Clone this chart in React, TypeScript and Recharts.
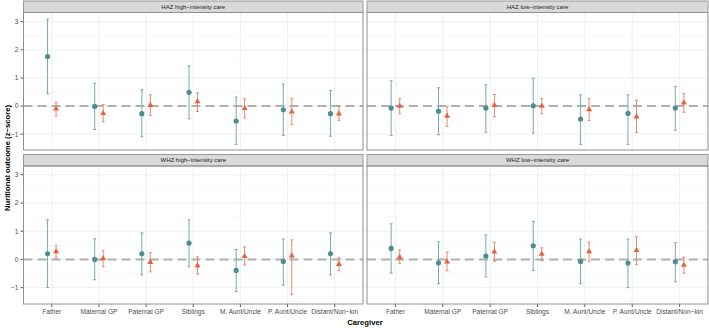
import React from 'react';
import {
  ScatterChart,
  Scatter,
  XAxis,
  YAxis,
  CartesianGrid,
  ReferenceLine,
  ErrorBar,
} from 'recharts';

// Caregiver categories on the x axis
const caregivers = [
  'Father',
  'Maternal GP',
  'Paternal GP',
  'Siblings',
  'M. Aunt/Uncle',
  'P. Aunt/Uncle',
  'Distant/Non\u2212kin',
];

const yTicks = [-1, 0, 1, 2, 3];
const yMinor = [-1.5, -0.5, 0.5, 1.5, 2.5];

// HAZ, high-intensity care
const hazHighCircle = [1.76, -0.01, -0.27, 0.49, -0.53, -0.13, -0.27];
const hazHighCircleLo = [0.44, -0.83, -1.09, -0.45, -1.36, -1.04, -1.07];
const hazHighCircleHi = [3.09, 0.81, 0.58, 1.43, 0.32, 0.78, 0.55];
const hazHighTri = [-0.09, -0.25, 0.04, 0.17, -0.07, -0.19, -0.26];
const hazHighTriLo = [-0.35, -0.56, -0.34, -0.19, -0.42, -0.65, -0.51];
const hazHighTriHi = [0.14, 0.05, 0.4, 0.47, 0.26, 0.27, -0.01];

// HAZ, low-intensity care
const hazLowCircle = [-0.07, -0.18, -0.07, 0.01, -0.46, -0.26, -0.07];
const hazLowCircleLo = [-1.05, -1.02, -0.93, -0.96, -1.36, -1.36, -0.86];
const hazLowCircleHi = [0.9, 0.65, 0.76, 0.99, 0.4, 0.4, 0.69];
const hazLowTri = [0.01, -0.34, 0.04, 0.01, -0.11, -0.37, 0.13];
const hazLowTriLo = [-0.27, -0.72, -0.37, -0.27, -0.51, -0.94, -0.22];
const hazLowTriHi = [0.26, -0.02, 0.41, 0.26, 0.26, 0.2, 0.44];

// WHZ, high-intensity care
const whzHighCircle = [0.2, 0.0, 0.2, 0.58, -0.39, -0.07, 0.2];
const whzHighCircleLo = [-1.0, -0.72, -0.55, -0.26, -1.14, -0.91, -0.55];
const whzHighCircleHi = [1.4, 0.73, 0.94, 1.4, 0.35, 0.72, 0.94];
const whzHighTri = [0.29, 0.04, -0.09, -0.21, 0.12, 0.14, -0.16];
const whzHighTriLo = [0.06, -0.25, -0.44, -0.52, -0.2, -1.25, -0.4];
const whzHighTriHi = [0.48, 0.31, 0.24, 0.09, 0.44, 0.69, 0.06];

// WHZ, low-intensity care
const whzLowCircle = [0.39, -0.12, 0.12, 0.48, -0.07, -0.13, -0.08];
const whzLowCircleLo = [-0.48, -0.86, -0.62, -0.39, -0.86, -1.0, -0.79];
const whzLowCircleHi = [1.26, 0.62, 0.87, 1.34, 0.72, 0.72, 0.59];
const whzLowTri = [0.09, -0.07, 0.28, 0.2, 0.29, 0.33, -0.19];
const whzLowTriLo = [-0.15, -0.4, -0.07, -0.04, -0.07, -0.19, -0.49];
const whzLowTriHi = [0.33, 0.26, 0.61, 0.41, 0.61, 0.8, 0.08];

const TEAL = '#4f8d8e';
const TEAL_BAR = '#78abac';
const ORANGE = '#e5623f';
const ORANGE_BAR = '#e98a6f';
const FONT = '"Liberation Sans", Arial, Helvetica, sans-serif';
const DODGE = 0.09;

const Y_DOMAIN: [number, number] = [-1.58, 3.31];
const X_DOMAIN: [number, number] = [-0.6, 6.6];

type Row = { x: number; y: number; err: [number, number] };

function buildRows(vals: number[], lo: number[], hi: number[], shift: number): Row[] {
  return vals.map((v, i) => ({
    x: i + shift,
    y: v,
    err: [v - lo[i], hi[i] - v],
  }));
}

const CircleMark = (props: any) => {
  const { cx, cy } = props;
  if (cx == null || cy == null) return null;
  return <circle cx={cx} cy={cy} r={2.6} fill={TEAL} />;
};

const TriangleMark = (props: any) => {
  const { cx, cy } = props;
  if (cx == null || cy == null) return null;
  const h = 3.1;
  const w = 3.0;
  return (
    <path
      d={`M${cx},${cy - h} L${cx + w},${cy + h * 0.65} L${cx - w},${cy + h * 0.65} Z`}
      fill={ORANGE}
    />
  );
};

// plot-area geometry of the 2x2 facet grid
const COL_X = [23.5, 367];
const COL_W = [339.5, 341];
const ROW_Y = [12.5, 166];
const PLOT_H = [137.5, 138];
const STRIP_H = 11.5;

type PanelProps = {
  title: string;
  col: number;
  row: number;
  circle: Row[];
  tri: Row[];
};

function Panel({ col, row, circle, tri }: PanelProps) {
  const showY = col === 0;
  const showX = row === 1;
  const yAxisW = showY ? COL_X[0] : 0;
  const xAxisH = showX ? 18 : 0;
  const width = COL_W[col] + yAxisW;
  const height = PLOT_H[row] + xAxisH;
  const left = col === 0 ? 0 : COL_X[1];
  return (
    <div style={{ position: 'absolute', left, top: ROW_Y[row], width, height }}>
      <ScatterChart
        width={width}
        height={height}
        margin={{ top: 0, right: 0, bottom: 0, left: 0 }}
      >
        <CartesianGrid
          stroke="#f4f4f4"
          strokeWidth={0.6}
          vertical={false}
          horizontalValues={yMinor}
        />
        <CartesianGrid
          stroke="#ededed"
          strokeWidth={0.9}
          horizontalValues={yTicks}
          verticalValues={caregivers.map((_, i) => i)}
        />
        <XAxis
          type="number"
          dataKey="x"
          domain={X_DOMAIN}
          ticks={caregivers.map((_, i) => i)}
          tickFormatter={(v: number) => caregivers[Math.round(v)]}
          interval={0}
          allowDataOverflow
          hide={!showX}
          height={xAxisH}
          axisLine={false}
          tickSize={3}
          tickMargin={2}
          tickLine={{ stroke: '#333333', strokeWidth: 0.8 }}
          tick={{ fontSize: 6.6, fill: '#4d4d4d', fontFamily: FONT }}
        />
        <YAxis
          type="number"
          dataKey="y"
          domain={Y_DOMAIN}
          ticks={yTicks}
          allowDataOverflow
          hide={!showY}
          width={yAxisW}
          axisLine={false}
          tickSize={3}
          tickMargin={2}
          tickFormatter={(v: number) => (v < 0 ? `\u2212${Math.abs(v)}` : `${v}`)}
          tickLine={{ stroke: '#333333', strokeWidth: 0.8 }}
          tick={{ fontSize: 6.6, fill: '#4d4d4d', fontFamily: FONT }}
        />
        <ReferenceLine
          y={0}
          stroke="#b0b0b0"
          strokeWidth={2}
          strokeDasharray="9 5"
        />
        <Scatter data={circle} shape={<CircleMark />} isAnimationActive={false}>
          <ErrorBar
            dataKey="err"
            direction="y"
            width={1.5}
            stroke={TEAL_BAR}
            strokeWidth={1}
          />
        </Scatter>
        <Scatter data={tri} shape={<TriangleMark />} isAnimationActive={false}>
          <ErrorBar
            dataKey="err"
            direction="y"
            width={1.5}
            stroke={ORANGE_BAR}
            strokeWidth={1}
          />
        </Scatter>
      </ScatterChart>
    </div>
  );
}

const panels = [
  {
    title: 'HAZ high\u2212intensity care',
    col: 0,
    row: 0,
    circle: buildRows(hazHighCircle, hazHighCircleLo, hazHighCircleHi, -DODGE),
    tri: buildRows(hazHighTri, hazHighTriLo, hazHighTriHi, DODGE),
  },
  {
    title: 'HAZ low\u2212intensity care',
    col: 1,
    row: 0,
    circle: buildRows(hazLowCircle, hazLowCircleLo, hazLowCircleHi, -DODGE),
    tri: buildRows(hazLowTri, hazLowTriLo, hazLowTriHi, DODGE),
  },
  {
    title: 'WHZ high\u2212intensity care',
    col: 0,
    row: 1,
    circle: buildRows(whzHighCircle, whzHighCircleLo, whzHighCircleHi, -DODGE),
    tri: buildRows(whzHighTri, whzHighTriLo, whzHighTriHi, DODGE),
  },
  {
    title: 'WHZ low\u2212intensity care',
    col: 1,
    row: 1,
    circle: buildRows(whzLowCircle, whzLowCircleLo, whzLowCircleHi, -DODGE),
    tri: buildRows(whzLowTri, whzLowTriLo, whzLowTriHi, DODGE),
  },
];

export default function App() {
  return (
    <div
      style={{
        position: 'absolute',
        left: 0,
        top: 0,
        width: 709,
        height: 328,
        background: '#ffffff',
        overflow: 'hidden',
        fontFamily: FONT,
      }}
    >
      {panels.map((p) => (
        <Panel key={p.title} {...p} />
      ))}
      {/* strips, panel frames and axis titles */}
      <svg
        width={709}
        height={328}
        style={{ position: 'absolute', left: 0, top: 0, pointerEvents: 'none' }}
      >
        {panels.map((p) => {
          const x = COL_X[p.col];
          const w = COL_W[p.col];
          const y = ROW_Y[p.row];
          const h = PLOT_H[p.row];
          return (
            <g key={p.title}>
              <rect
                x={x}
                y={y - STRIP_H}
                width={w}
                height={STRIP_H}
                fill="#d9d9d9"
                stroke="#9a9a9a"
                strokeWidth={1}
              />
              <text
                x={x + w / 2}
                y={y - STRIP_H / 2}
                dy="0.35em"
                textAnchor="middle"
                fontSize={6}
                fill="#1a1a1a"
                fontFamily={FONT}
              >
                {p.title}
              </text>
              <rect
                x={x}
                y={y}
                width={w}
                height={h}
                fill="none"
                stroke="#8f8f8f"
                strokeWidth={1}
              />
            </g>
          );
        })}
        <text
          x={365}
          y={322.5}
          dy="0.35em"
          textAnchor="middle"
          fontSize={7.7}
          fontWeight="bold"
          fill="#000"
          fontFamily={FONT}
        >
          Caregiver
        </text>
        <text
          transform="translate(7.5,158) rotate(-90)"
          textAnchor="middle"
          dy="0.35em"
          fontSize={7.7}
          fontWeight="bold"
          fill="#000"
          fontFamily={FONT}
        >
          Nuritional outcome (z{'\u2212'}score)
        </text>
      </svg>
    </div>
  );
}
